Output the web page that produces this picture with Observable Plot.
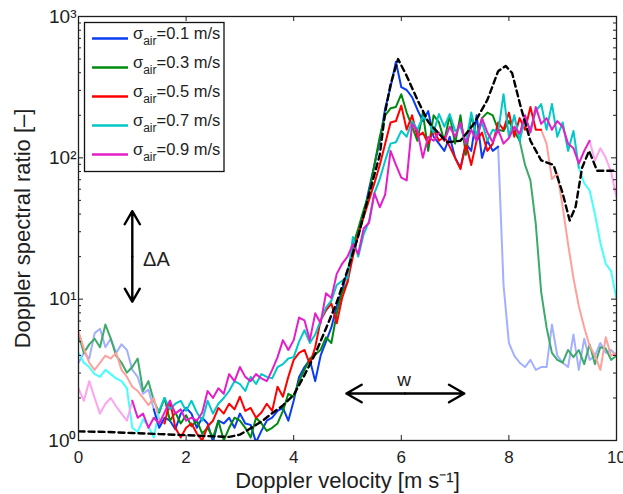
<!DOCTYPE html>
<html><head><meta charset="utf-8">
<script src="https://cdn.jsdelivr.net/npm/d3@7"></script>
<script src="https://cdn.jsdelivr.net/npm/@observablehq/plot@0.6"></script>
<style>body{margin:0;background:#fff;} #chart{width:623px;height:494px;}</style>
</head><body><div id="chart"></div>
<script>
// Doppler velocity grid [m/s]
const velocity = [0,0.1,0.2,0.3,0.4,0.5,0.6,0.7,0.8,0.9,
 1,1.1,1.2,1.3,1.4,1.5,1.6,1.7,1.8,1.9,
 2,2.1,2.2,2.3,2.4,2.5,2.6,2.7,2.8,2.9,
 3,3.1,3.2,3.3,3.4,3.5,3.6,3.7,3.8,3.9,
 4,4.1,4.2,4.3,4.4,4.5,4.6,4.7,4.8,4.9,
 5,5.1,5.2,5.3,5.4,5.5,5.6,5.7,5.8,5.9,
 6,6.1,6.2,6.3,6.4,6.5,6.6,6.7,6.8,6.9,
 7,7.1,7.2,7.3,7.4,7.5,7.6,7.7,7.8,7.9,
 8,8.1,8.2,8.3,8.4,8.5,8.6,8.7,8.8,8.9,
 9,9.1,9.2,9.3,9.4,9.5,9.6,9.7,9.8,9.9,
 10];

// sigma_air = 0.1 m/s
const ratio01 = [3.55,4.17,3.80,5.75,6.17,4.57,5.25,4.17,4.79,4.37,
 3.16,2.82,2.14,2.29,1.66,1.23,1.45,1.38,1.20,1.55,
 1.70,1.55,1.23,1.45,1.32,0.98,1.38,1.32,1.45,1.23,
 1.55,1.32,1.29,0.97,1.17,1.38,1.45,1.62,1.70,1.38,
 1.91,2.82,3.31,3.72,2.63,3.98,5.01,6.31,8.91,11.5,
 15.8,21.4,28.2,39.8,60.3,89.1,132,224,316,479,
 316,302,269,219,182,214,141,126,112,141,
 100,85.1,126,112,200,100,132,112,120,12.6,
 4.90,3.98,3.55,3.31,3.72,3.16,3.31,3.31,6.61,3.98,
 3.55,3.31,5.62,3.16,5.25,3.72,3.98,4.90,4.17,4.37,
 3.98];
// sigma_air = 0.3 m/s
const ratio03 = [5.62,4.17,4.79,5.25,4.57,6.61,5.25,3.98,3.55,3.02,
 3.31,3.80,2.24,2.63,1.91,1.58,2.00,1.38,1.58,1.32,
 1.51,1.26,1.38,1.12,1.23,1.05,1.38,1.00,1.23,1.45,
 1.38,1.23,1.05,1.45,1.32,1.17,1.23,1.32,1.62,2.14,
 2.04,2.63,3.16,3.80,4.07,4.37,5.37,4.90,7.94,11.2,
 13.2,24.0,31.6,42.7,56.2,89.1,141,200,224,229,
 282,209,166,132,209,112,200,178,132,200,
 126,200,105,200,141,191,209,200,158,155,
 182,155,132,89.1,69.2,33.9,11.2,6.31,4.17,3.72,
 3.55,4.37,3.89,4.37,3.47,4.79,3.47,4.57,4.47,3.72,
 3.98];
// sigma_air = 0.5 m/s
const ratio05 = [5.89,4.47,3.55,3.16,3.55,3.98,3.80,4.17,3.16,2.82,
 2.40,2.24,2.00,1.78,2.00,1.41,1.32,1.91,1.23,1.05,
 1.23,1.32,1.12,1.00,1.26,1.38,1.70,1.55,1.82,1.66,
 2.04,1.62,1.70,1.45,1.58,1.82,1.62,2.40,2.04,2.82,
 3.72,4.17,4.37,3.47,4.57,7.08,8.32,9.33,6.76,10.2,
 13.2,20.0,28.8,38.0,50.1,66.1,89.1,126,178,182,
 234,158,200,141,151,126,158,132,141,120,
 100,83.2,126,89.1,132,151,112,126,178,158,
 209,141,191,158,229,158,158,126,70.8,77.6,
 44.7,24.5,14.1,8.91,6.31,4.68,3.98,3.16,5.37,3.98,
 4.17];
// sigma_air = 0.7 m/s
const ratio07 = [4.17,3.55,3.31,2.95,2.82,3.16,2.95,2.75,2.63,2.34,
 1.23,1.15,1.41,1.26,1.05,1.62,2.00,1.66,1.82,1.91,
 1.62,1.91,1.58,1.38,1.91,1.55,1.82,2.00,2.24,2.63,
 2.51,2.24,2.82,2.51,2.95,2.82,2.75,3.31,3.47,3.80,
 3.89,5.01,6.03,4.90,5.62,7.08,8.71,9.77,12.6,13.5,
 14.1,27.5,20.0,28.8,35.5,56.2,70.8,95.5,126,129,
 155,141,182,158,195,182,151,204,166,204,
 155,166,126,209,141,178,132,158,151,282,
 141,200,132,191,158,214,240,158,240,141,
 178,112,155,85.1,66.1,58.9,39.8,25.1,17.8,15.8,
 10.0];
// sigma_air = 0.9 m/s
const ratio09 = [2.34,1.91,2.63,2.00,1.55,1.82,2.00,1.74,1.55,1.38,
 1.91,1.45,1.55,1.23,1.45,1.32,1.58,1.91,1.55,1.66,
 1.38,1.45,1.38,1.58,2.24,2.00,2.34,2.14,2.95,2.63,
 3.31,2.82,2.63,2.95,2.75,2.63,3.16,3.89,5.13,4.37,
 5.13,7.41,7.08,5.13,7.94,6.76,11.0,10.2,15.1,17.8,
 20.0,24.5,20.9,31.6,34.7,56.2,44.7,55.0,112,89.1,
 72.4,69.2,174,155,100,141,132,151,132,166,
 141,178,126,158,132,191,151,129,158,126,
 138,166,148,200,151,229,174,191,158,182,
 166,126,117,91.2,112,132,95.5,117,100,79.4,
 52.5];

// reference (dashed black) curve
const dashVelocity = [0,0.5,1,1.5,2,2.5,2.8,3.0,3.2,3.4,3.6,3.8,4.0,4.2,4.4,4.6,4.8,5.0,5.2,5.4,5.6,5.7,5.8,5.94,6.1,6.3,6.5,6.7,6.85,7.1,7.35,7.6,7.8,7.94,8.06,8.22,8.4,8.6,8.83,9.0,9.13,9.24,9.36,9.49,9.64,10];
const dashRatio = [1.16,1.15,1.13,1.11,1.09,1.07,1.06,1.10,1.22,1.36,1.56,1.77,2.10,2.90,4.10,6.20,9.50,16,28,55,105,210,330,500,380,257,180,148,129,132,174,257,410,447,398,229,132,96,89,56,36,45,85,112,81,81];

const sigmaLabels = ["0.1","0.3","0.5","0.7","0.9"];
const solidStart = [14,15,16,15,10];   // index where full-colour part begins
const solidEnd = [78,82,86,93,95];     // index where full-colour part ends
const solidColors = ["#0a3cf5","#008a0e","#ff0000","#00c8c8","#e41ec8"];
const fadedColors = ["#a3b0ff","#3caa6a","#ffa09a","#44ffff","#ffa2f0"];

const xTicks = [0,2,4,6,8,10];
const yTicks = [1,10,100,1000];
const yMinor = [2,3,4,5,6,7,8,9,20,30,40,50,60,70,80,90,200,300,400,500,600,700,800,900];

// annotations (data coordinates)
const arrowDA = [{x:1, from:20, to:42},{x:1, from:20, to:9.6}];
const arrowW = [{y:2.15, from:6.07, to:4.98},{y:2.15, from:6.07, to:7.17}];
const labelDA = [{x:1.2, y:19.2, t:"ΔA"}];
const labelW = [{x:6.05, y:2.69, t:"w"}];

const FONT = "'Liberation Sans', Arial, Helvetica, sans-serif";
const W = 623, H = 494, mL = 78, mR = 7, mT = 16, mB = 54;
const pw = W - mL - mR, ph = H - mT - mB;
const ink = "#1e1e1e";

const seriesValues = [ratio01, ratio03, ratio05, ratio07, ratio09];
function seg(vals, a, b) {
  const out = [];
  for (let i = a; i <= b; i++) out.push({v: velocity[i], r: vals[i]});
  return out;
}
const lineMarks = [];
seriesValues.forEach((vals, k) => {
  const a = solidStart[k], b = solidEnd[k], n = vals.length - 1;
  lineMarks.push(Plot.line(seg(vals, 0, a), {x:"v", y:"r", stroke: fadedColors[k], strokeWidth: 2, clip: true}));
  lineMarks.push(Plot.line(seg(vals, b, n), {x:"v", y:"r", stroke: fadedColors[k], strokeWidth: 2, clip: true}));
});
seriesValues.forEach((vals, k) => {
  lineMarks.push(Plot.line(seg(vals, solidStart[k], solidEnd[k]), {x:"v", y:"r", stroke: solidColors[k], strokeWidth: 2, clip: true}));
});
const dashRows = dashVelocity.map((v, i) => ({v, r: dashRatio[i]}));
const sup = {1:"⁰", 10:"¹", 100:"²", 1000:"³"};

const chart = Plot.plot({
  width: W, height: H, marginLeft: mL, marginRight: mR, marginTop: mT, marginBottom: mB,
  style: {fontFamily: FONT, fontSize: "17px", background: "white", color: ink},
  x: {domain: [0, 10]},
  y: {type: "log", domain: [1, 1000]},
  marks: [
    ...lineMarks,
    Plot.line(dashRows, {x:"v", y:"r", stroke:"#000", strokeWidth: 2.4, strokeDasharray: "6,4", clip: true}),
    Plot.frame({stroke: ink, strokeWidth: 1.3}),
    Plot.tickX(xTicks, {x: d => d, insetTop: ph - 5, stroke: ink}),
    Plot.tickX(xTicks, {x: d => d, insetBottom: ph - 5, stroke: ink}),
    Plot.tickY(yTicks, {y: d => d, insetRight: pw - 5, stroke: ink}),
    Plot.tickY(yTicks, {y: d => d, insetLeft: pw - 5, stroke: ink}),
    Plot.tickY(yMinor, {y: d => d, insetRight: pw - 3, stroke: ink}),
    Plot.tickY(yMinor, {y: d => d, insetLeft: pw - 3, stroke: ink}),
    Plot.axisX({ticks: xTicks, tickSize: 0, tickPadding: 10, label: null, tickFormat: d => String(d), fontSize: 17, fill: ink}),
    Plot.axisY({ticks: yTicks, tickSize: 0, tickPadding: 2, label: null, tickFormat: d => "10" + sup[d], fontSize: 19, fill: ink}),
    Plot.text(["Doppler velocity [m s⁻¹]"], {frameAnchor: "bottom", lineAnchor: "bottom", textAnchor: "middle", dy: 47, text: d => d, fontSize: 22, fill: ink}),
    Plot.text(["Doppler spectral ratio [–]"], {frameAnchor: "left", rotate: -90, textAnchor: "middle", dx: -56, text: d => d, fontSize: 22, fill: ink}),
    Plot.arrow(arrowDA, {x1: "x", x2: "x", y1: "from", y2: "to", stroke: "#000", strokeWidth: 2.4, headLength: 11, headAngle: 60}),
    Plot.arrow(arrowW, {y1: "y", y2: "y", x1: "from", x2: "to", stroke: "#000", strokeWidth: 2.4, headLength: 11, headAngle: 60}),
    Plot.text(labelDA, {x: "x", y: "y", text: "t", textAnchor: "start", fontSize: 20, fill: ink}),
    Plot.text(labelW, {x: "x", y: "y", text: "t", fontSize: 19, fill: ink})
  ]
});
document.getElementById("chart").appendChild(chart);

// legend box (upper left, inside frame)
const svg = d3.select(chart);
const lg = svg.append("g").attr("font-family", FONT).attr("fill", ink).attr("text-anchor", "start");
lg.append("rect").attr("x", 84.5).attr("y", 22.5).attr("width", 139.5).attr("height", 149)
  .attr("fill", "white").attr("stroke", "#111").attr("stroke-width", 1.3);
sigmaLabels.forEach((lab, i) => {
  const yy = 38.5 + i * 29;
  lg.append("line").attr("x1", 92).attr("x2", 128).attr("y1", yy).attr("y2", yy)
    .attr("stroke", solidColors[i]).attr("stroke-width", 2.5);
  const t = lg.append("text").attr("x", 133).attr("y", yy).attr("font-size", 16.5).attr("text-anchor", "start");
  t.append("tspan").text("σ");
  t.append("tspan").attr("dy", 6).attr("font-size", 12).text("air");
  t.append("tspan").attr("dy", -6).text("=" + lab + " m/s");
});
</script></body></html>
